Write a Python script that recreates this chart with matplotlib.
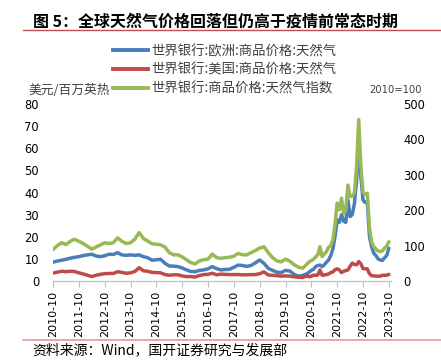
import matplotlib
matplotlib.use("Agg")
import matplotlib.pyplot as plt
from matplotlib.lines import Line2D
import pandas as pd

plt.rcParams['font.family'] = ['Noto Sans CJK SC', 'DejaVu Sans']

# 月份：2020-08 之前每两个月一个点，之后逐月
dates = list(pd.period_range("2010-10", "2020-08", freq="2M")) + \
        list(pd.period_range("2020-09", "2023-10", freq="M"))

# 世界银行:欧洲:商品价格:天然气 (美元/百万英热)
europe = [8.5, 9.0, 9.4, 9.8, 10.3, 10.7, 11.0, 11.5, 11.8, 12.1,
          11.3, 11.0, 11.4, 12.1, 12.0, 12.8, 11.8, 11.6, 11.8, 11.6,
          11.8, 11.0, 10.5, 9.4, 9.6, 9.8, 8.0, 6.8, 6.7, 6.5,
          5.9, 5.0, 4.3, 4.2, 4.8, 5.0, 5.5, 6.5, 5.6, 5.0,
          5.2, 5.3, 6.2, 7.2, 7.0, 6.6, 7.0, 8.2, 9.5, 8.0,
          5.7, 4.8, 4.0, 3.8, 4.8, 4.5, 3.0, 2.2, 2.5, 3.3,
          4.0, 4.8, 5.3, 6.5, 7.0, 7.2, 6.5, 7.3, 8.5, 9.5,
          11.5, 14.5, 20.0, 27.6, 26.5, 30.0, 27.0, 26.5, 36.6, 29.1,
          30.0, 35.0, 45.0, 63.8, 47.2, 36.6, 35.5, 35.9, 20.0, 15.5,
          12.5, 11.5, 10.0, 9.5, 9.3, 10.5, 11.5, 14.8]

# 世界银行:美国:商品价格:天然气 (美元/百万英热)
us = [3.6, 4.0, 4.4, 4.2, 4.4, 4.3, 3.7, 3.2, 2.6, 2.0,
      2.6, 3.0, 3.3, 3.4, 3.4, 4.2, 3.9, 3.5, 3.7, 4.3,
      6.0, 4.6, 4.4, 3.9, 3.8, 3.7, 2.9, 2.6, 2.8, 2.8,
      2.3, 2.0, 2.0, 1.8, 2.5, 2.9, 3.0, 3.5, 2.8, 3.1,
      3.0, 2.9, 2.9, 2.9, 2.8, 2.8, 2.9, 2.9, 3.3, 4.1,
      2.7, 2.6, 2.4, 2.2, 2.3, 2.2, 1.9, 1.7, 1.6, 2.3,
      1.9, 2.2, 2.6, 2.6, 2.7, 5.0, 2.6, 2.7, 2.9, 3.2,
      3.8, 4.1, 5.1, 5.5, 5.0, 3.8, 4.4, 4.7, 5.0, 6.6,
      8.1, 7.5, 7.3, 8.8, 7.8, 5.6, 5.5, 5.5, 3.3, 2.4,
      2.3, 2.2, 2.2, 2.2, 2.6, 2.6, 2.6, 3.0]

# 世界银行:商品价格:天然气指数 (2010=100)
index = [89, 100, 108, 103, 112, 118, 112, 106, 98, 90,
         96, 102, 108, 106, 108, 122, 112, 106, 108, 118,
         137, 120, 113, 105, 104, 102, 96, 80, 74, 74,
         68, 60, 52, 48, 57, 60, 62, 76, 66, 64,
         66, 67, 70, 78, 74, 74, 80, 86, 93, 97,
         80, 66, 57, 54, 62, 56, 46, 39, 36, 48,
         54, 58, 61, 68, 74, 97, 69, 76, 83, 95,
         100, 116, 160, 220, 201, 234, 191, 200, 271, 238,
         240, 248, 323, 456, 323, 250, 245, 248, 150, 110,
         97, 90, 85, 83, 85, 93, 98, 111]

tick_labels = ["%d-10" % y for y in range(2010, 2024)]

# 以 2010-10 为 0 的月序号
xs = [(p.year - 2010) * 12 + p.month - 10 for p in dates]

blue = '#4A7EBB'
red = '#BE4B48'
green = '#98B954'
gray_text = '#404040'

fig = plt.figure(figsize=(4.41, 3.61), dpi=100)

ax = fig.add_axes([53 / 441, 1 - 281 / 361, 338 / 441, 177 / 361])
ax2 = ax.twinx()

ax.plot(xs, europe, color=blue, lw=2.5, solid_capstyle='round')
ax.plot(xs, us, color=red, lw=2.5, solid_capstyle='round')
ax2.plot(xs, index, color=green, lw=2.5, solid_capstyle='round')

ax.set_ylim(0, 80)
ax.set_yticks(range(0, 81, 10))
ax2.set_ylim(0, 500)
ax2.set_yticks(range(0, 501, 100))
ax.set_xlim(0, 157)
ax.set_xticks(range(0, 157, 12))
ax.set_xticklabels(tick_labels, rotation=90, fontsize=8, color='black',
                   family='DejaVu Sans')

for a in (ax, ax2):
    for s in ('top', 'left', 'right'):
        a.spines[s].set_visible(False)
    a.spines['bottom'].set_color('#BFBFBF')
ax.tick_params(axis='y', length=0, pad=10, labelsize=8.3, labelcolor='black')
ax2.tick_params(axis='y', length=0, pad=9, labelsize=8.3, labelcolor='black')
ax.tick_params(axis='x', length=4, color='#BFBFBF', pad=3)
for lab in ax.get_yticklabels() + ax2.get_yticklabels():
    lab.set_family('DejaVu Sans')

# 标题与分隔线
fig.text(33 / 441, 1 - 22 / 361, "图 5：全球天然气价格回落但仍高于疫情前常态时期",
         fontsize=11.5, fontweight='bold', va='center', ha='left', color='black')
fig.add_artist(Line2D([23 / 441, 1], [1 - 30 / 361, 1 - 30 / 361],
                      color='#C0504D', lw=1.0))
fig.add_artist(Line2D([23 / 441, 1], [1 - 340 / 361, 1 - 340 / 361],
                      color='#E39A9A', lw=1.2))
fig.text(32 / 441, 1 - 350 / 361, "资料来源：Wind，国开证券研究与发展部",
         fontsize=10, va='center', ha='left', color='black')

# 单位
fig.text(28 / 441, 1 - 90 / 361, "美元/百万英热", fontsize=9.2,
         va='center', ha='left', color=gray_text)
fig.text(422 / 441, 1 - 90 / 361, "2010=100", fontsize=7.2,
         va='center', ha='right', color=gray_text, family='DejaVu Sans')

handles = [Line2D([], [], color=blue, lw=2.8),
           Line2D([], [], color=red, lw=2.8),
           Line2D([], [], color=green, lw=2.8)]
labels = ["世界银行:欧洲:商品价格:天然气",
          "世界银行:美国:商品价格:天然气",
          "世界银行:商品价格:天然气指数"]
leg = fig.legend(handles, labels, loc='upper left',
                 bbox_to_anchor=(113 / 441, 1 - 44 / 361),
                 frameon=False, fontsize=9.6, handlelength=2.6,
                 handletextpad=0.25, labelspacing=0.36, borderpad=0,
                 borderaxespad=0)
for t in leg.get_texts():
    t.set_color(gray_text)

fig.savefig("out.png", dpi=100)
